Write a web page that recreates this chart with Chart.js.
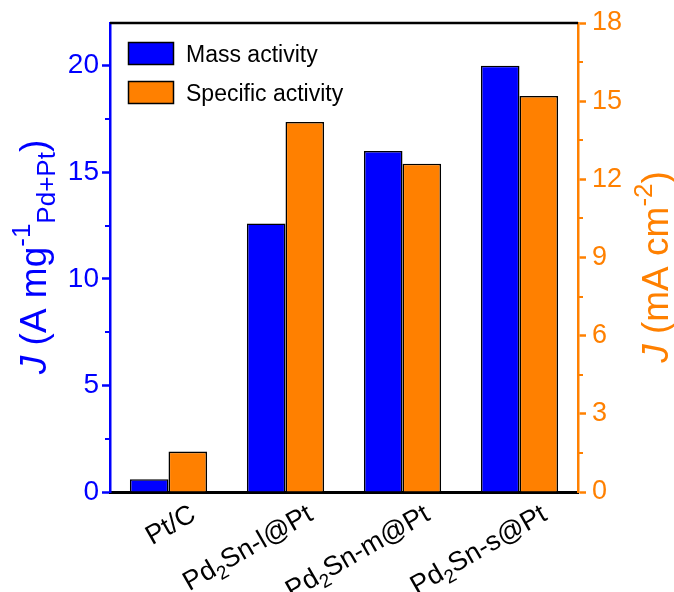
<!DOCTYPE html>
<html>
<head>
<meta charset="utf-8">
<script src="https://cdn.jsdelivr.net/npm/chart.js@4/dist/chart.umd.min.js"></script>
<style>
  html, body { margin: 0; padding: 0; background: #ffffff; }
  #wrap { width: 674px; height: 592px; }
</style>
</head>
<body>
<div id="wrap"><canvas id="chart" width="674" height="592"></canvas></div>
<script>
// Catalyst samples (a digit in a name is drawn as a subscript)
const categories = ['Pt/C', 'Pd2Sn-l@Pt', 'Pd2Sn-m@Pt', 'Pd2Sn-s@Pt'];
// Mass activity, A mg^-1 (Pd+Pt), left axis
const massActivity = [0.6, 12.6, 16.0, 20.0];
// Specific activity, mA cm^-2, right axis
const specificActivity = [1.55, 14.2, 12.6, 15.2];
const seriesNames = ['Mass activity', 'Specific activity'];

// Axis ranges and tick steps
const leftMax = 22, leftStep = 5;
const rightMax = 18, rightStep = 3;

// Axis titles as rich-text runs: [text, style] with style '', 'i', 'sup' or 'sub'
const leftTitle = [['J', 'i'], [' (A mg', ''], ['-1', 'sup'], ['Pd+Pt', 'sub'], [')', '']];
const rightTitle = [['J', 'i'], [' (mA cm', ''], ['-2', 'sup'], [')', '']];

const BLUE = '#0000ff';
const ORANGE = '#ff8000';
const FAMILY = '"Liberation Sans", Arial, Helvetica, sans-serif';

function fontFor(style, size) {
  const small = Math.round(size * 0.7);
  if (style === 'i') return 'italic ' + size + 'px ' + FAMILY;
  if (style === 'sup' || style === 'sub') return small + 'px ' + FAMILY;
  return size + 'px ' + FAMILY;
}

// Draw rich text along a rotated baseline; align: 'left' | 'center' | 'right'
function drawRich(ctx, runs, x, y, angle, align, size, color) {
  ctx.save();
  ctx.translate(x, y);
  ctx.rotate(angle);
  ctx.fillStyle = color;
  ctx.textBaseline = 'alphabetic';
  ctx.textAlign = 'left';
  let total = 0;
  const widths = runs.map(([t, s]) => { ctx.font = fontFor(s, size); const w = ctx.measureText(t).width; total += w; return w; });
  let cx = align === 'right' ? -total : align === 'center' ? -total / 2 : 0;
  runs.forEach(([t, s], i) => {
    ctx.font = fontFor(s, size);
    let dy = 0;
    if (s === 'sup') dy = -size * 0.42;
    if (s === 'sub') dy = size * 0.25;
    ctx.fillText(t, cx, dy);
    cx += widths[i];
  });
  ctx.restore();
}

function labelRuns(label) {
  return label.split(/(\d+)/).filter(p => p.length).map(p => [p, /^\d+$/.test(p) ? 'sub' : '']);
}

const decorations = {
  id: 'decorations',
  afterDraw(chart) {
    const ctx = chart.ctx;
    const area = chart.chartArea;
    const xs = chart.scales.x, yl = chart.scales.y, yr = chart.scales.y2;

    // top frame line
    ctx.save();
    ctx.strokeStyle = '#000000';
    ctx.lineWidth = 2.5;
    ctx.beginPath();
    ctx.moveTo(area.left, area.top);
    ctx.lineTo(area.right, area.top);
    ctx.stroke();

    // minor ticks halfway between major ticks
    ctx.lineWidth = 2;
    ctx.strokeStyle = BLUE;
    for (let v = leftStep / 2; v < leftMax; v += leftStep) {
      const py = Math.round(yl.getPixelForValue(v));
      ctx.beginPath(); ctx.moveTo(area.left, py); ctx.lineTo(area.left - 5, py); ctx.stroke();
    }
    ctx.strokeStyle = ORANGE;
    for (let v = rightStep / 2; v < rightMax; v += rightStep) {
      const py = Math.round(yr.getPixelForValue(v));
      ctx.beginPath(); ctx.moveTo(area.right, py); ctx.lineTo(area.right + 5, py); ctx.stroke();
    }
    ctx.restore();

    // category labels, rotated 30 degrees
    categories.forEach((c, i) => {
      const px = xs.getPixelForValue(i);
      drawRich(ctx, labelRuns(c), px + 29, area.bottom + 27, -Math.PI / 6, 'right', 27, '#000000');
    });

    // axis titles
    drawRich(ctx, leftTitle, 46, 257, -Math.PI / 2, 'center', 37, BLUE);
    drawRich(ctx, rightTitle, 668, 267, -Math.PI / 2, 'center', 37, ORANGE);

    // legend
    const colors = [BLUE, ORANGE];
    const boxTop = [42, 81];
    ctx.save();
    seriesNames.forEach((name, i) => {
      ctx.fillStyle = colors[i];
      ctx.fillRect(128, boxTop[i], 45, 22);
      ctx.strokeStyle = '#000000';
      ctx.lineWidth = 1.5;
      ctx.strokeRect(128.5, boxTop[i] + 0.5, 45, 22);
      ctx.fillStyle = '#000000';
      ctx.font = '23px ' + FAMILY;
      ctx.textBaseline = 'alphabetic';
      ctx.textAlign = 'left';
      ctx.fillText(name, 186, boxTop[i] + 20);
    });
    ctx.restore();
  }
};

new Chart(document.getElementById('chart'), {
  type: 'bar',
  data: {
    labels: categories,
    datasets: [
      { label: seriesNames[0], data: massActivity, yAxisID: 'y', backgroundColor: BLUE, borderColor: '#000000', borderWidth: 1.6 },
      { label: seriesNames[1], data: specificActivity, yAxisID: 'y2', backgroundColor: ORANGE, borderColor: '#000000', borderWidth: 1.6 }
    ]
  },
  options: {
    responsive: false,
    animation: false,
    layout: { padding: { top: 23, left: 0, right: 0, bottom: 0 } },
    datasets: { bar: { barPercentage: 1, categoryPercentage: 0.66 } },
    plugins: { legend: { display: false }, tooltip: { enabled: false } },
    scales: {
      x: {
        grid: { display: false },
        border: { color: '#000000', width: 3 },
        ticks: { display: false },
        afterFit(s) { s.height = 100; }
      },
      y: {
        position: 'left',
        min: 0, max: leftMax,
        afterBuildTicks(s) { s.ticks = s.ticks.filter(t => t.value % leftStep === 0); },
        ticks: { stepSize: leftStep, color: BLUE, font: { family: FAMILY, size: 28 }, padding: 3 },
        grid: { drawOnChartArea: false, tickLength: 8, tickColor: BLUE, tickWidth: 2.5 },
        border: { color: BLUE, width: 2.5 },
        afterFit(s) { s.width = 110; }
      },
      y2: {
        position: 'right',
        min: 0, max: rightMax,
        ticks: { stepSize: rightStep, color: ORANGE, font: { family: FAMILY, size: 27 }, padding: 6 },
        grid: { drawOnChartArea: false, tickLength: 8, tickColor: ORANGE, tickWidth: 2.5 },
        border: { color: ORANGE, width: 2.5 },
        afterFit(s) { s.width = 96; }
      }
    }
  },
  plugins: [decorations]
});
</script>
</body>
</html>
